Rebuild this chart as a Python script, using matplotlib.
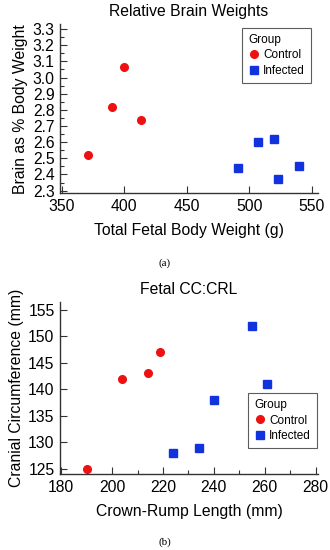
import matplotlib
matplotlib.use("Agg")
import matplotlib.pyplot as plt
from matplotlib.ticker import MultipleLocator, FormatStrFormatter

plt.rcParams['font.family'] = ['Liberation Sans', 'DejaVu Sans']

# (a) relative brain weights
ctrl_body = [371, 390, 400, 413]
ctrl_brain = [2.52, 2.82, 3.065, 2.74]
inf_body = [491, 507, 520, 523, 540]
inf_brain = [2.44, 2.60, 2.62, 2.37, 2.45]

# (b) cranial circumference vs crown-rump length
ctrl_crl = [190, 204, 214, 219]
ctrl_cc = [125, 142, 143, 147]
inf_crl = [224, 234, 240, 255, 261]
inf_cc = [128, 129, 138, 152, 141]

RED = '#ee1111'
BLUE = '#1133dd'
AXC = '#333333'
FS = 11.3


def style_axes(ax):
    for s in ('top', 'right'):
        ax.spines[s].set_visible(False)
    for s in ('left', 'bottom'):
        ax.spines[s].set_color(AXC)
        ax.spines[s].set_linewidth(1.0)
    ax.tick_params(which='major', direction='in', length=5, width=0.8,
                   color=AXC, labelsize=FS, pad=4)
    ax.tick_params(which='minor', direction='in', length=3, width=0.8, color=AXC)


def add_legend(ax, loc, anchor):
    leg = ax.legend(title='Group', loc=loc, bbox_to_anchor=anchor,
                    bbox_transform=fig.transFigure, fontsize=8.5,
                    title_fontsize=8.5, frameon=True, fancybox=False,
                    handletextpad=0.3, handlelength=1.0, borderpad=0.5,
                    labelspacing=0.3, borderaxespad=0)
    leg.get_frame().set_edgecolor(AXC)
    leg.get_frame().set_linewidth(0.8)
    leg._legend_box.align = 'left'


fig = plt.figure(figsize=(3.3, 5.5), dpi=100)

ax1 = fig.add_axes([0.182, 0.649, 0.782, 0.307])
ax1.plot(ctrl_body, ctrl_brain, 'o', color=RED, markersize=5.5, label='Control')
ax1.plot(inf_body, inf_brain, 's', color=BLUE, markersize=5.5, label='Infected')
ax1.set_xlim(348.5, 555)
ax1.set_ylim(2.285, 3.33)
ax1.xaxis.set_major_locator(MultipleLocator(50))
ax1.yaxis.set_major_locator(MultipleLocator(0.1))
ax1.yaxis.set_minor_locator(MultipleLocator(0.05))
ax1.yaxis.set_major_formatter(FormatStrFormatter('%.1f'))
style_axes(ax1)
ax1.set_title('Relative Brain Weights', fontsize=FS, pad=6)
ax1.set_xlabel('Total Fetal Body Weight (g)', fontsize=FS, labelpad=7)
ax1.set_ylabel('Brain as % Body Weight', fontsize=FS, labelpad=3)
add_legend(ax1, 'upper right', (311 / 330, 1 - 28 / 550))
fig.text(0.5, 1 - 263 / 550, '(a)', ha='center', va='center',
         fontsize=8, family='Liberation Serif')

ax2 = fig.add_axes([0.182, 0.138, 0.782, 0.313])
ax2.plot(ctrl_crl, ctrl_cc, 'o', color=RED, markersize=5.5, label='Control')
ax2.plot(inf_crl, inf_cc, 's', color=BLUE, markersize=5.5, label='Infected')
ax2.set_xlim(179.5, 281)
ax2.set_ylim(124, 156.5)
ax2.xaxis.set_major_locator(MultipleLocator(20))
ax2.xaxis.set_minor_locator(MultipleLocator(10))
ax2.yaxis.set_major_locator(MultipleLocator(5))
style_axes(ax2)
ax2.set_title('Fetal CC:CRL', fontsize=FS, pad=6)
ax2.set_xlabel('Crown-Rump Length (mm)', fontsize=FS, labelpad=7)
ax2.set_ylabel('Cranial Circumference (mm)', fontsize=FS, labelpad=3)
add_legend(ax2, 'lower right', (317 / 330, 1 - 448 / 550))
fig.text(0.5, 1 - 542 / 550, '(b)', ha='center', va='center',
         fontsize=8, family='Liberation Serif')

fig.savefig('out.png', dpi=100)
